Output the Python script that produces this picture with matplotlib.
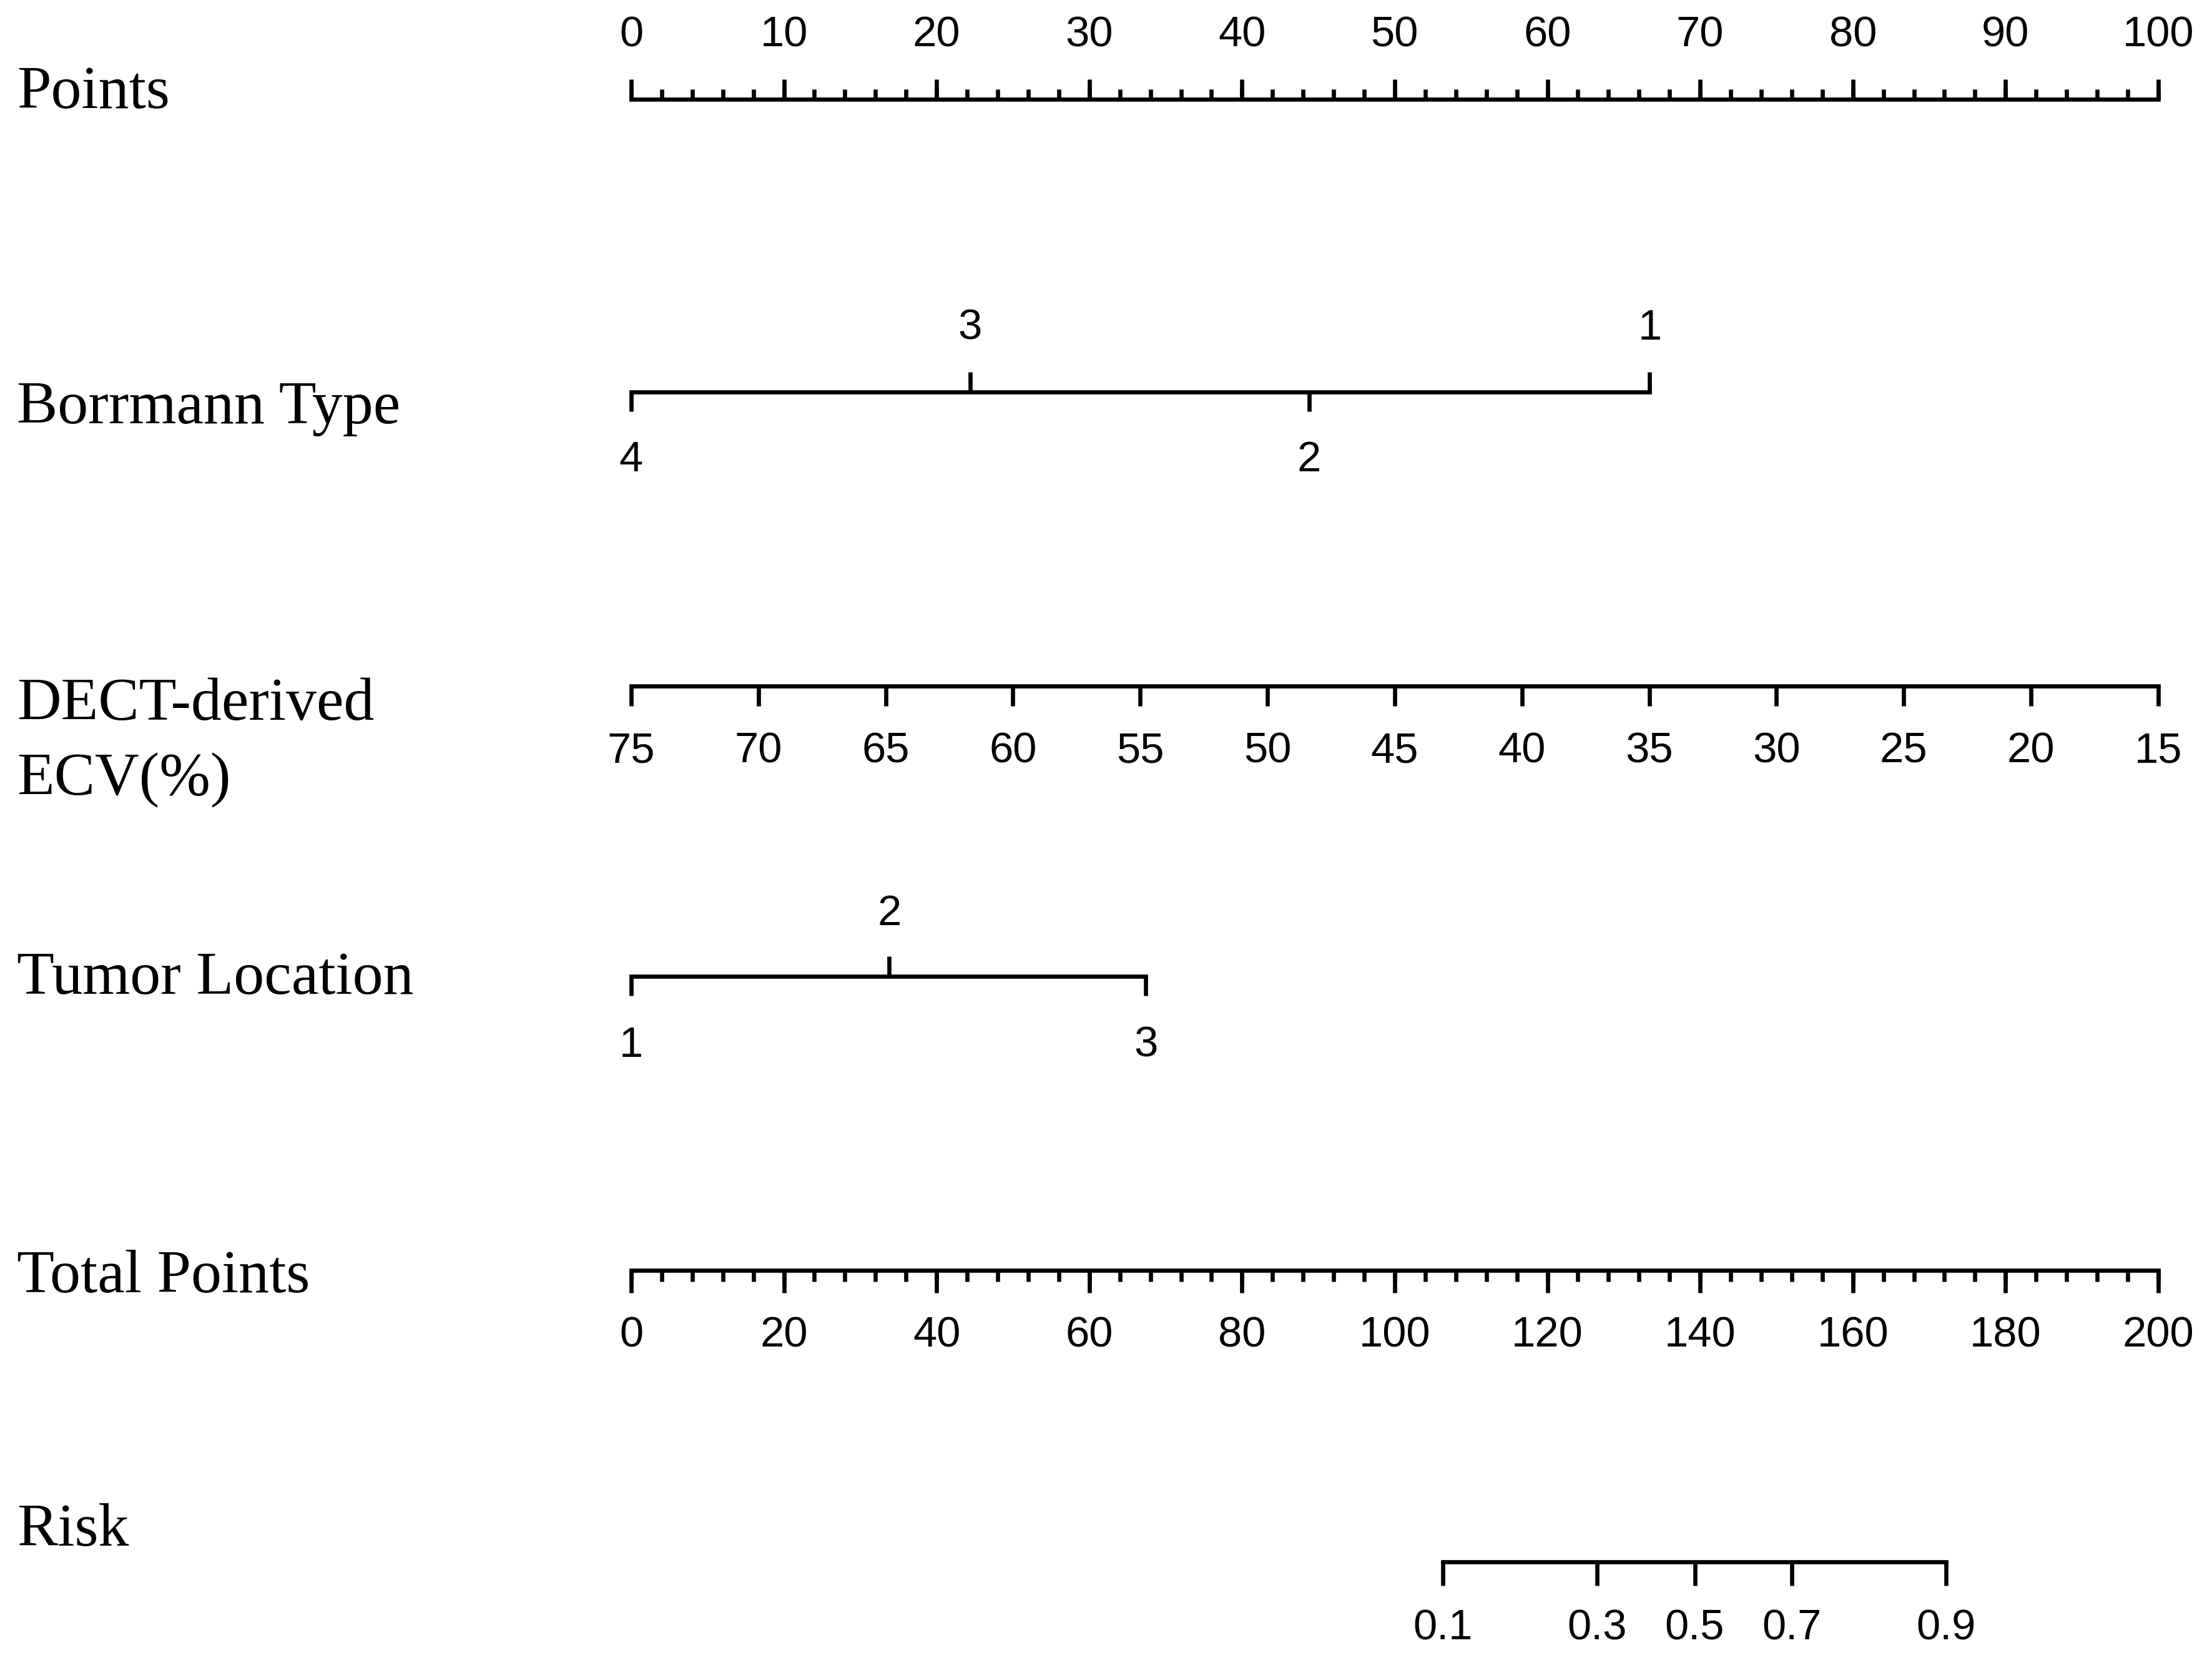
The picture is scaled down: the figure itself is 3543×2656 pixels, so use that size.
import numpy as np
import matplotlib
matplotlib.use("Agg")
import matplotlib.pyplot as plt

# ---- data ----
points_major = list(range(0, 101, 10))
points_minor = list(range(0, 101, 2))

borrmann_levels = ["4", "3", "2", "1"]
borrmann_points = [0.0, 22.2, 44.4, 66.7]
borrmann_above = [False, True, False, True]

ecv_values = [75, 70, 65, 60, 55, 50, 45, 40, 35, 30, 25, 20, 15]
ecv_points = [0.0, 8.33, 16.67, 25.0, 33.33, 41.67, 50.0, 58.33, 66.67, 75.0, 83.33, 91.67, 100.0]

tumor_levels = ["1", "2", "3"]
tumor_points = [0.0, 16.9, 33.7]
tumor_above = [False, True, False]

total_major = list(range(0, 201, 20))
total_minor = list(range(0, 201, 4))

risk_values = ["0.1", "0.3", "0.5", "0.7", "0.9"]
risk_total_points = [106.3, 126.5, 139.3, 152.0, 172.2]

row_labels = ["Points", "Borrmann Type", "DECT-derived\nECV(%)", "Tumor Location",
              "Total Points", "Risk"]

# ---- layout (y in picture rows, top = 0) ----
W, H = 1563, 1172
X0, X1 = 446, 1525
sc = (X1 - X0) / 100
fig = plt.figure(figsize=(3543 / 300, 2656 / 300), dpi=300)
ax = fig.add_axes([0, 0, 1, 1])
ax.set_xlim(-X0 / sc, (W - X0) / sc)
ax.set_ylim(H, 0)
ax.axis("off")

LW = 1.6
TICK = 14
MINOR = 7
lab_font = dict(family=["Liberation Serif", "DejaVu Serif"], fontsize=23.5)
num_font = dict(family=["Liberation Sans", "DejaVu Sans"], fontsize=16.5)
label_x = (12 - X0) / sc


def hline(x0, x1, y):
    ax.plot([x0, x1], [y, y], color="black", lw=LW, solid_capstyle="projecting")


def tick(x, y, length):
    ax.plot([x, x], [y, y + length], color="black", lw=LW, solid_capstyle="butt")


# Points
y = 70
hline(0, 100, y)
for v in points_minor:
    tick(v, y, -MINOR)
for v in points_major:
    tick(v, y, -TICK)
    ax.text(v, 25, str(v), ha="center", va="center", **num_font)

# Borrmann Type
y = 277
hline(min(borrmann_points), max(borrmann_points), y)
for lev, p, up in zip(borrmann_levels, borrmann_points, borrmann_above):
    tick(p, y, -TICK if up else TICK)
    ax.text(p, 232 if up else 325, lev, ha="center", va="center", **num_font)

# DECT-derived ECV
y = 485
hline(0, 100, y)
for v, p in zip(ecv_values, ecv_points):
    tick(p, y, TICK)
    ax.text(p, 531, str(v), ha="center", va="center", **num_font)

# Tumor Location
y = 690
hline(min(tumor_points), max(tumor_points), y)
for lev, p, up in zip(tumor_levels, tumor_points, tumor_above):
    tick(p, y, -TICK if up else TICK)
    ax.text(p, 646 if up else 739, lev, ha="center", va="center", **num_font)

# Total Points (0-200 mapped onto 0-100 scale)
y = 898
hline(0, 100, y)
for v in total_minor:
    tick(v / 2, y, MINOR + 1)
for v in total_major:
    tick(v / 2, y, TICK + 2)
    ax.text(v / 2, 944, str(v), ha="center", va="center", **num_font)

# Risk
y = 1104
hline(risk_total_points[0] / 2, risk_total_points[-1] / 2, y)
for lab, tp in zip(risk_values, risk_total_points):
    tick(tp / 2, y, TICK + 3)
    ax.text(tp / 2, 1151, lab, ha="center", va="center", **num_font)

# row labels
label_y = [66, 289, 525, 692, 903, 1082]
for lab, ly in zip(row_labels, label_y):
    ax.text(label_x, ly, lab, ha="left", va="center", linespacing=1.45, **lab_font)

fig.savefig("out.png", dpi=300, facecolor="white")
